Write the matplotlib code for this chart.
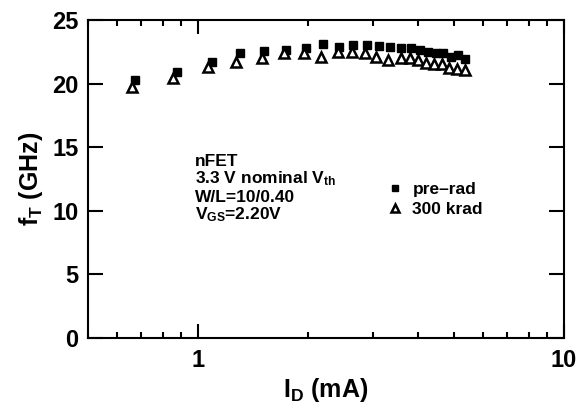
import numpy as np
import matplotlib
matplotlib.use('Agg')
import matplotlib.pyplot as plt
from matplotlib.ticker import LogLocator, NullFormatter, FixedLocator

plt.rcParams['font.family'] = ['Liberation Sans', 'DejaVu Sans']
plt.rcParams['font.weight'] = 'bold'
plt.rcParams['mathtext.fontset'] = 'custom'
plt.rcParams['mathtext.rm'] = 'Liberation Sans:bold'
plt.rcParams['mathtext.it'] = 'Liberation Sans:bold'
plt.rcParams['mathtext.bf'] = 'Liberation Sans:bold'

# pre-rad
id_pre = [0.673, 0.876, 1.092, 1.299, 1.514, 1.737, 1.970, 2.198, 2.421, 2.657, 2.888,
          3.116, 3.355, 3.596, 3.823, 4.030, 4.246, 4.457, 4.667, 4.921, 5.131, 5.353]
ft_pre = [20.28, 20.93, 21.72, 22.38, 22.56, 22.64, 22.82, 23.09, 22.90, 23.03, 23.03,
          22.95, 22.90, 22.82, 22.77, 22.64, 22.50, 22.38, 22.38, 22.11, 22.24, 21.93]

# 300 krad
id_rad = [0.659, 0.855, 1.065, 1.273, 1.495, 1.721, 1.941, 2.170, 2.405, 2.631, 2.865,
          3.071, 3.304, 3.574, 3.783, 3.995, 4.194, 4.410, 4.644, 4.857, 5.098, 5.353]
ft_rad = [19.75, 20.41, 21.28, 21.72, 21.98, 22.38, 22.38, 22.11, 22.50, 22.46, 22.38,
          22.11, 21.85, 21.97, 21.98, 21.85, 21.59, 21.51, 21.51, 21.24, 21.12, 21.06]

fig = plt.figure(figsize=(5.8, 4.11), dpi=100)
ax = fig.add_axes([0.1517, 0.1788, 0.8207, 0.7725])

ax.plot(id_pre, ft_pre, 's', color='black', markersize=5.4, label='pre–rad')
ax.plot(id_rad, ft_rad, '^', markerfacecolor='white', markeredgecolor='black',
        markeredgewidth=1.8, markersize=6.8, label='300 krad')

ax.set_xscale('log')
ax.set_xlim(0.5, 10)
ax.set_ylim(0, 25)
ax.set_yticks([0, 5, 10, 15, 20, 25])
ax.xaxis.set_major_locator(FixedLocator([1, 10]))
ax.set_xticklabels(['1', '10'])
ax.xaxis.set_minor_locator(LogLocator(base=10, subs=np.arange(2, 10)))
ax.xaxis.set_minor_formatter(NullFormatter())

for s in ax.spines.values():
    s.set_linewidth(1.5)
ax.tick_params(which='both', direction='in', top=True, right=True, width=1.5,
               labelsize=17)
ax.tick_params(axis='x', which='major', length=10, pad=8)
ax.tick_params(axis='x', which='minor', length=4.5)
ax.tick_params(axis='y', which='major', length=11, pad=7)

ax.set_xlabel(r'I$_{\mathrm{D}}$ (mA)', fontsize=18, fontweight='bold', labelpad=3)
ax.set_ylabel(r'f$_{\mathrm{T}}$ (GHz)', fontsize=18, fontweight='bold', labelpad=5)

lines = ['nFET', r'3.3 V nominal V$_{\mathrm{th}}$', 'W/L=10/0.40', r'V$_{\mathrm{GS}}$=2.20V']
ys = [0.553, 0.500, 0.442, 0.386]
for t, yy in zip(lines, ys):
    ax.text(0.224, yy, t, transform=ax.transAxes, fontsize=12.5, fontweight='bold',
            va='center', ha='left')

ax.legend(loc='upper left', bbox_to_anchor=(0.627, 0.49), frameon=False,
          fontsize=12.5, handlelength=1.0, handletextpad=0.5, labelspacing=0.25,
          borderpad=0, borderaxespad=0, markerscale=0.85)

plt.savefig('out.png', dpi=100)
